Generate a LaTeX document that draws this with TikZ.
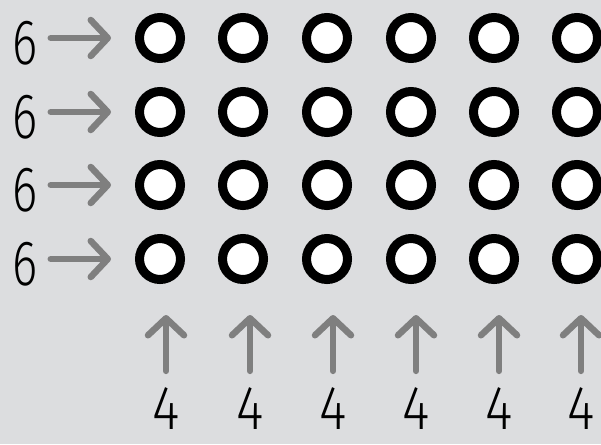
\documentclass[tikz,border=0pt]{standalone}
\usepackage{fontspec}
\setmainfont{Fira Sans Light}
\usetikzlibrary{arrows.meta}
\definecolor{paper}{HTML}{DCDDDF}
\definecolor{arrowgray}{HTML}{7F7F7F}
\begin{document}
\begin{tikzpicture}[x=1pt,y=-1pt,
  ring/.style={circle,draw=black,fill=white,line width=9pt,minimum size=41pt,inner sep=0pt},
  numlabel/.style={font=\fontsize{64}{64}\selectfont, text=black, inner sep=0pt, anchor=base},
  bottomlabel/.style={numlabel,font=\fontsize{62}{62}\selectfont},
  grayarrow/.style={draw=arrowgray,line width=6.5pt,line cap=round,
    -{Straight Barb[length=17pt,width=36pt,line width=6.5pt,round]}}]
\fill[paper] (0,0) rectangle (601,444);
\useasboundingbox (0,0) rectangle (601,444);
\foreach \r/\y in {1/38,2/112,3/185,4/259}{
  \foreach \c/\x in {1/160,2/243,3/327,4/411,5/494,6/577}{
    \node[ring] (c\r\c) at (\x,\y) {};
  }
  \node[numlabel] (r\r) at (25,\y+26) {\scalebox{0.75}[1]{6}};
  \draw[grayarrow,shorten <=13pt,shorten >=24pt] (r\r.east |- c\r1.west) -- (c\r1.west);
}
\foreach \c/\x in {1/166,2/250,3/333,4/416,5/499,6/581}{
  \node[bottomlabel] (b\c) at (\x,429) {\scalebox{0.85}[1]{4}};
  \draw[grayarrow,shorten <=16pt,shorten >=31pt] (b\c.north) -- (b\c.north |- c4\c.south);
}
\end{tikzpicture}
\end{document}
